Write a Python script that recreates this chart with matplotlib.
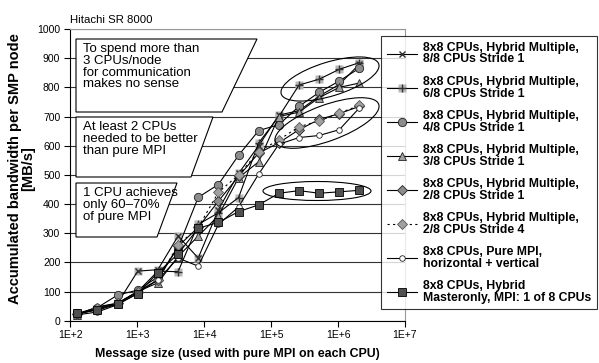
import matplotlib.pyplot as plt
from matplotlib.patches import Polygon, Ellipse
from matplotlib.legend_handler import HandlerTuple
from matplotlib.lines import Line2D

plt.rcParams['font.family'] = ['Liberation Sans', 'DejaVu Sans']

# message sizes (bytes) and bandwidth per SMP node [MB/s]
sizes = [128, 256, 512, 1024, 2048, 4096, 8192, 16384, 32768, 65536,
         131072, 262144, 524288, 1048576, 2097152]

bw_8of8 = [22, 40, 60, 170, 175, 290, 215, 380, 505, 600, 705, 720, 770, 810, 880]
bw_6of8 = [22, 40, 58, 100, 170, 168, 330, 370, 422, 610, 700, 808, 828, 862, 885]
bw_4of8 = [25, 45, 88, 105, 150, 250, 423, 467, 567, 652, 672, 735, 783, 822, 866]
bw_3of8 = [20, 48, 60, 100, 130, 220, 290, 360, 490, 545, 700, 715, 765, 800, 815]
bw_2of8_s1 = [22, 45, 60, 100, 140, 255, 320, 410, 495, 575, 610, 655, 690, 710, 735]
bw_2of8_s4 = [22, 45, 60, 100, 140, 260, 320, 440, 500, 580, 620, 665, 685, 712, 738]
bw_pure = [20, 30, 55, 95, 140, 215, 187, 330, 390, 503, 605, 628, 635, 655, 730]
bw_master = [25, 36, 57, 92, 165, 229, 317, 337, 374, 397, 437, 446, 437, 442, 447]

labels = ['8x8 CPUs, Hybrid Multiple,\n8/8 CPUs Stride 1',
          '8x8 CPUs, Hybrid Multiple,\n6/8 CPUs Stride 1',
          '8x8 CPUs, Hybrid Multiple,\n4/8 CPUs Stride 1',
          '8x8 CPUs, Hybrid Multiple,\n3/8 CPUs Stride 1',
          '8x8 CPUs, Hybrid Multiple,\n2/8 CPUs Stride 1',
          '8x8 CPUs, Hybrid Multiple,\n2/8 CPUs Stride 4',
          '8x8 CPUs, Pure MPI,\nhorizontal + vertical',
          '8x8 CPUs, Hybrid\nMasteronly, MPI: 1 of 8 CPUs']

x_ticks = [1e2, 1e3, 1e4, 1e5, 1e6, 1e7]
x_ticklabels = ['1E+2', '1E+3', '1E+4', '1E+5', '1E+6', '1E+7']

fig = plt.figure(figsize=(5.99, 3.63), dpi=100)
ax = fig.add_axes([0.117, 0.1165, 0.559, 0.8035])

lw = 0.8
ec = '#222222'
# light gray squares behind the x and + markers
ax.plot(sizes, bw_8of8, ls='none', marker='s', ms=6, mfc='#b8b8b8', mec='none', zorder=2)
ax.plot(sizes, bw_6of8, ls='none', marker='s', ms=6, mfc='#b8b8b8', mec='none', zorder=2)

h1, = ax.plot(sizes, bw_8of8, color='black', lw=lw, marker='x', ms=5, mec='#333333', mew=1.0, zorder=3)
h2, = ax.plot(sizes, bw_6of8, color='black', lw=lw, marker='+', ms=6, mec='#333333', mew=1.0, zorder=3)
h3, = ax.plot(sizes, bw_4of8, color='black', lw=lw, marker='o', ms=6, mfc='#8c8c8c', mec=ec, mew=0.6, zorder=3)
h4, = ax.plot(sizes, bw_3of8, color='black', lw=lw, marker='^', ms=6, mfc='#a0a0a0', mec=ec, mew=0.6, zorder=3)
h5, = ax.plot(sizes, bw_2of8_s1, color='black', lw=lw, marker='D', ms=5, mfc='#8c8c8c', mec=ec, mew=0.6, zorder=3)
h6, = ax.plot(sizes, bw_2of8_s4, color='black', lw=lw, ls=(0, (2, 3)), marker='D', ms=5, mfc='#a0a0a0', mec='#555555', mew=0.6, zorder=3)
h7, = ax.plot(sizes, bw_pure, color='black', lw=lw, marker='o', ms=4, mfc='white', mec=ec, mew=0.6, zorder=3)
h8, = ax.plot(sizes, bw_master, color='black', lw=lw, marker='s', ms=6, mfc='#505050', mec='black', mew=0.6, zorder=3)

sq = Line2D([], [], ls='none', marker='s', ms=6, mfc='#b8b8b8', mec='none')

ax.set_xscale('log')
ax.set_xlim(1e2, 1e7)
ax.set_ylim(0, 1000)
ax.set_xticks(x_ticks)
ax.set_xticklabels(x_ticklabels)
ax.minorticks_off()
ax.set_yticks(range(0, 1001, 100))
ax.tick_params(axis='both', labelsize=7.5, length=4, width=0.8, direction='out', pad=3)
ax.yaxis.grid(True, color='#333333', lw=0.8)
ax.set_axisbelow(True)
for s in ['top', 'right']:
    ax.spines[s].set_color('#999999')
for s in ['left', 'bottom']:
    ax.spines[s].set_color('black')

ax.text(0.0, 1.015, 'Hitachi SR 8000', transform=ax.transAxes, fontsize=8.2, ha='left', va='bottom')
fig.text(0.5 * (0.117 + 0.676), 0.025, 'Message size (used with pure MPI on each CPU)',
         fontsize=8.9, fontweight='bold', ha='center', va='center')
fig.text(0.036, 0.535, 'Accumulated bandwidth per SMP node\n[MB/s]', fontsize=10.5, fontweight='bold',
         rotation=90, ha='center', va='center', multialignment='center', linespacing=1.0)

# annotation boxes (parallelograms) and ellipses, in pixel positions
H = 3.63
def px(x, y):
    return (x / 100.0, H - y / 100.0)

boxes = [((76, 39), (257, 39), (222, 112), (76, 112)),
         ((76, 117), (213, 117), (191, 177), (76, 177)),
         ((76, 183), (177, 183), (157, 237), (76, 237))]
texts = ['To spend more than\n3 CPUs/node\nfor communication\nmakes no sense',
         'At least 2 CPUs\nneeded to be better\nthan pure MPI',
         '1 CPU achieves\nonly 60\u201370%\nof pure MPI']
for pts, t in zip(boxes, texts):
    poly = Polygon([px(*p) for p in pts], closed=True, facecolor='white', edgecolor='black',
                   lw=0.8, transform=fig.dpi_scale_trans, zorder=5)
    fig.add_artist(poly)
    x0, y0 = px(pts[0][0] + 7, pts[0][1] + 4)
    fig.text(x0 / 5.99, y0 / H, t, fontsize=9.5, ha='left', va='top', linespacing=0.98, zorder=6)

ellipses = [((330, 79), 102, 34, 17), ((327, 123), 110, 36, 20), ((317, 191), 108, 19, 0)]
for (cx, cy), w, h, a in ellipses:
    e = Ellipse(px(cx, cy), w / 100.0, h / 100.0, angle=a, fill=False, edgecolor='black', lw=0.8,
                transform=fig.dpi_scale_trans, zorder=4)
    fig.add_artist(e)

handles = [h1, (sq, h2), h3, h4, h5, h6, h7, h8]
leg = fig.legend(handles, labels, loc='upper left', bbox_to_anchor=(381 / 599, 1 - 36 / 363),
                 frameon=True, fancybox=False, edgecolor='black', fontsize=8.8,
                 handlelength=2.5, handletextpad=0.5, labelspacing=0.82, borderpad=0.45,
                 borderaxespad=0, handler_map={tuple: HandlerTuple(ndivide=1, pad=0)})
leg.get_frame().set_linewidth(0.8)
for t in leg.get_texts():
    t.set_fontweight('bold')
    t.set_linespacing(1.0)

fig.savefig('out.png', dpi=100, facecolor='white')
